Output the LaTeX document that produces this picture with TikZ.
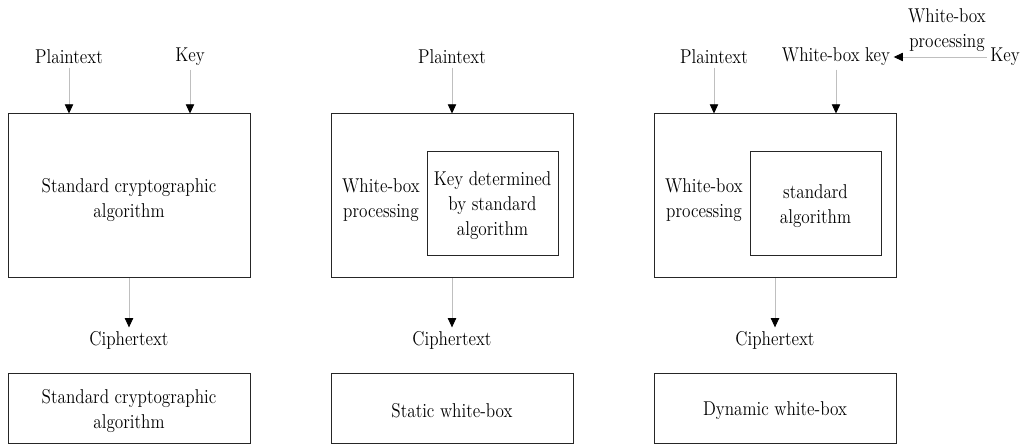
\documentclass[tikz,border=0pt]{standalone}
\usepackage{fontspec}
\setmainfont{lmroman12-regular.otf}[FakeStretch=0.86]
\usetikzlibrary{arrows.meta}
\begin{document}
\begin{tikzpicture}[x=0.6pt,y=-0.6pt,
  every node/.style={font=\fontsize{12}{15}\selectfont},
  box/.style={draw=black!85,line width=0.6pt,align=center},
  lbl/.style={align=center,inner sep=2pt,yshift=-1.2pt},
  arr/.style={draw=black!25,line width=0.5pt,-{Triangle[length=5.5pt,width=5pt,color=black]}}]
\useasboundingbox (0,0) rectangle (1022,446);
% Panel 1
\node[box,minimum width=242*0.6pt,minimum height=164*0.6pt] (b1) at (129,196) {};
\node[lbl] (t1) at (129,198) {Standard cryptographic\\algorithm};
\node[lbl] (p1) at (69,55) {Plaintext};
\node[lbl] (k1) at (190,55) {Key};
\node[lbl] (c1) at (129,338) {Ciphertext};
\node[box,minimum width=242*0.6pt,minimum height=70*0.6pt] (f1) at (129,409) {};
\node[lbl] (ft1) at (129,409) {Standard cryptographic\\algorithm};
\draw[arr] (p1.south) -- (p1.south |- b1.north);
\draw[arr] (k1.south) -- (k1.south |- b1.north);
\draw[arr] (c1.north |- b1.south) -- (c1.north);
% Panel 2
\node[box,minimum width=242*0.6pt,minimum height=164*0.6pt] (b2) at (452,196) {};
\node[box,minimum width=131*0.6pt,minimum height=104*0.6pt] (i2) at (492.5,204) {};
\node[lbl] (w2) at (381,198) {White-box\\processing};
\node[lbl] (it2) at (492.5,204) {Key determined\\by standard\\algorithm};
\node[lbl] (p2) at (452,55) {Plaintext};
\node[lbl] (c2) at (452,338) {Ciphertext};
\node[box,minimum width=242*0.6pt,minimum height=70*0.6pt] (f2) at (452,409) {};
\node[lbl] (ft2) at (452,409) {Static white-box};
\draw[arr] (p2.south) -- (p2.south |- b2.north);
\draw[arr] (c2.north |- b2.south) -- (c2.north);
% Panel 3
\node[box,minimum width=242*0.6pt,minimum height=164*0.6pt] (b3) at (775,196) {};
\node[box,minimum width=131*0.6pt,minimum height=104*0.6pt] (i3) at (815.5,204) {};
\node[lbl] (w3) at (704,198) {White-box\\processing};
\node[lbl] (it3) at (815.5,204) {standard\\algorithm};
\node[lbl] (p3) at (714,55) {Plaintext};
\node[lbl] (wk3) at (836,55) {White-box key};
\node[lbl] (k3) at (1005,55) {Key};
\node[lbl] (wp3) at (947,28) {White-box\\processing};
\node[lbl] (c3) at (775,338) {Ciphertext};
\node[box,minimum width=242*0.6pt,minimum height=70*0.6pt] (f3) at (775,409) {};
\node[lbl] (ft3) at (775,409) {Dynamic white-box};
\draw[arr] (p3.south) -- (p3.south |- b3.north);
\draw[arr] (wk3.south) -- (wk3.south |- b3.north);
\draw[arr] (k3.west) -- (wk3.east);
\draw[arr] (c3.north |- b3.south) -- (c3.north);
\end{tikzpicture}
\end{document}
